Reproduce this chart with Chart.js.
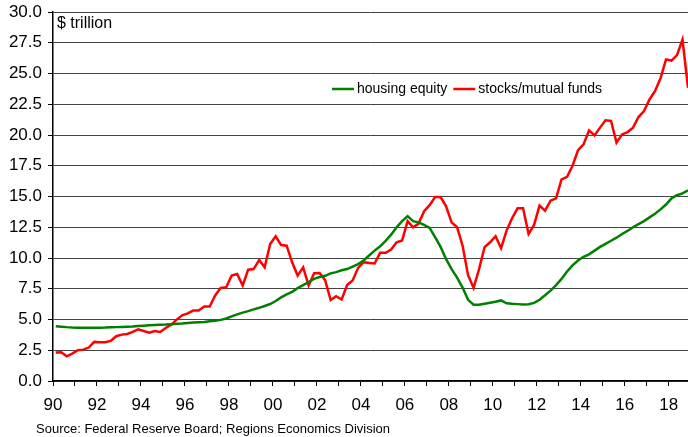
<!DOCTYPE html>
<html>
<head>
<meta charset="utf-8">
<script src="https://cdn.jsdelivr.net/npm/chart.js@4"></script>
<style>
  html, body { margin: 0; padding: 0; background: #fff; }
  #wrap { width: 688px; height: 437px; }
</style>
</head>
<body>
<div id="wrap"><canvas id="grafico" width="688" height="437"></canvas></div>
<script>
// quarterly, 1990Q1 - 2018Q4, $ trillion
const startYear = 1990;
const endYear = 2018;

const housingEquity = [
  4.45, 4.42, 4.38, 4.35,   4.33, 4.32, 4.32, 4.32,   4.33, 4.34, 4.36, 4.38,
  4.40, 4.42, 4.44, 4.47,   4.50, 4.53, 4.55, 4.57,   4.59, 4.62, 4.65, 4.68,
  4.72, 4.75, 4.78, 4.80,   4.85, 4.90, 4.97, 5.08,   5.25, 5.42, 5.56, 5.68,
  5.82, 5.95, 6.10, 6.26,   6.50, 6.80, 7.05, 7.25,   7.55, 7.80, 8.05, 8.30,
  8.45, 8.55, 8.75, 8.85,   9.00, 9.10, 9.30, 9.50,   9.80, 10.20, 10.60, 10.95,
  11.40, 11.90, 12.50, 13.00, 13.40, 13.00, 12.90, 12.70, 12.45, 11.70, 10.90, 9.90,
  9.10, 8.40, 7.60, 6.60,   6.20, 6.20, 6.28, 6.36,   6.45, 6.55, 6.32, 6.28,
  6.25, 6.22, 6.24, 6.35,   6.60, 6.97, 7.35, 7.80,   8.30, 8.90, 9.40, 9.80,
  10.10, 10.30, 10.60, 10.90, 11.15, 11.40, 11.65, 11.95, 12.20, 12.50, 12.75, 13.00,
  13.30, 13.60, 13.95, 14.35, 14.85, 15.10, 15.25, 15.50
];

const stocksFunds = [
  2.31, 2.34, 2.01, 2.23,   2.50, 2.55, 2.72, 3.18,   3.15, 3.15, 3.26, 3.64,
  3.77, 3.82, 3.99, 4.20,   4.07, 3.93, 4.07, 3.99,   4.31, 4.58, 4.99, 5.34,
  5.50, 5.73, 5.73, 6.05,   6.05, 6.95, 7.57, 7.62,   8.57, 8.70, 7.76, 9.05,
  9.10, 9.84, 9.24, 11.14,  11.76, 11.05, 11.00, 9.65, 8.57, 9.24, 7.76, 8.76,
  8.78, 8.20, 6.58, 6.90,   6.63, 7.80, 8.18, 9.20,   9.66, 9.60, 9.55, 10.42,
  10.42, 10.69, 11.28, 11.42, 13.00, 12.50, 12.80, 13.80, 14.30, 14.95, 14.95, 14.20,
  12.90, 12.50, 11.00, 8.60, 7.58, 9.10, 10.88, 11.28, 11.77, 10.80, 12.23, 13.23,
  14.04, 14.04, 11.96, 12.69, 14.26, 13.85, 14.66, 14.85, 16.40, 16.60, 17.50, 18.76,
  19.24, 20.38, 19.97, 20.60, 21.19, 21.14, 19.38, 20.05, 20.24, 20.60, 21.46, 21.95,
  22.89, 23.57, 24.60, 26.14, 26.05, 26.49, 27.76, 23.84
];

const seriesNames = ['housing equity', 'stocks/mutual funds'];
const seriesColors = ['#008000', '#ff0000'];
const unitLabel = '$ trillion';
const sourceNote = 'Source: Federal Reserve Board; Regions Economics Division';

// quarter midpoint on a year axis
function emPontos(valores) {
  return valores.map((v, i) => ({ x: startYear + i / 4 + 0.125, y: v }));
}

const fonte = "'Liberation Sans', Arial, sans-serif";

const textosExtras = {
  id: 'textosExtras',
  afterDraw(chart) {
    const ctx = chart.ctx;
    const area = chart.chartArea;
    ctx.save();
    ctx.fillStyle = '#000';
    ctx.textBaseline = 'middle';
    ctx.textAlign = 'left';
    ctx.font = '16px ' + fonte;
    ctx.fillText(unitLabel, area.left + 4, 24);

    // legenda dentro do gráfico
    ctx.font = '14px ' + fonte;
    let x = 332;
    const y = 89;
    seriesNames.forEach((nome, i) => {
      ctx.strokeStyle = seriesColors[i];
      ctx.lineWidth = 2.5;
      ctx.beginPath();
      ctx.moveTo(x, y);
      ctx.lineTo(x + 22, y);
      ctx.stroke();
      ctx.fillText(nome, x + 25, y);
      x += 25 + ctx.measureText(nome).width + 6;
    });

    ctx.font = '13px ' + fonte;
    ctx.textBaseline = 'alphabetic';
    ctx.fillText(sourceNote, 36, 433);
    ctx.restore();
  }
};

const ctx = document.getElementById('grafico').getContext('2d');

const chart = new Chart(ctx, {
  type: 'line',
  data: {
    datasets: [
      {
        label: seriesNames[0],
        data: emPontos(housingEquity),
        borderColor: seriesColors[0],
        borderWidth: 2.5,
        pointRadius: 0,
        fill: false,
        tension: 0
      },
      {
        label: seriesNames[1],
        data: emPontos(stocksFunds),
        borderColor: seriesColors[1],
        borderWidth: 2.5,
        pointRadius: 0,
        fill: false,
        tension: 0
      }
    ]
  },
  options: {
    responsive: false,
    animation: false,
    layout: { padding: { top: 12, right: 0, bottom: 0, left: 0 } },
    plugins: {
      legend: { display: false },
      tooltip: { enabled: false }
    },
    scales: {
      x: {
        type: 'linear',
        min: startYear,
        max: startYear + stocksFunds.length / 4 - 0.125,
        afterBuildTicks: (scale) => {
          const anos = [];
          for (let a = startYear; a <= endYear; a++) anos.push({ value: a });
          scale.ticks = anos;
        },
        afterFit: (scale) => { scale.height = 56; },
        ticks: {
          autoSkip: false,
          maxRotation: 0,
          padding: 9,
          color: '#000',
          font: { size: 17, family: fonte },
          callback: (v) => (v % 2 === 0 ? String(v).slice(2) : '')
        },
        grid: {
          drawOnChartArea: false,
          drawTicks: true,
          tickLength: 5,
          tickColor: '#000',
          tickWidth: 1
        },
        border: { color: '#000', width: 1.5 }
      },
      y: {
        min: 0,
        max: 30,
        afterFit: (scale) => {
          scale.width = 53;
          scale.paddingTop = 0;
          scale.paddingBottom = 0;
        },
        ticks: {
          stepSize: 2.5,
          padding: 6,
          color: '#000',
          font: { size: 17, family: fonte },
          callback: (v) => v.toFixed(1)
        },
        grid: {
          color: '#444',
          lineWidth: 1,
          tickLength: 5,
          tickColor: '#000'
        },
        border: { color: '#000', width: 1.5 }
      }
    }
  },
  plugins: [textosExtras]
});
</script>
</body>
</html>
